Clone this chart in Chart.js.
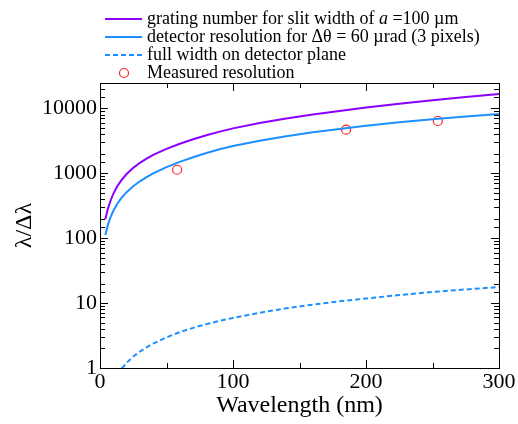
<!DOCTYPE html>
<html>
<head>
<meta charset="utf-8">
<script src="https://cdn.jsdelivr.net/npm/chart.js@4"></script>
<style>
body { margin: 0; background: #fff; }
</style>
</head>
<body>
<canvas id="grafico" width="518" height="424"></canvas>
<script>
// wavelength grid (nm) for the computed curves
const wavelengthNm = [4, 6, 8, 10, 13, 16, 20, 25, 30, 35, 40, 50, 60, 70, 80, 90, 100,
  120, 140, 160, 180, 200, 225, 250, 275, 300];
const gratingNumber = [196, 288, 380, 480, 630, 776, 970, 1208, 1446, 1680, 1920, 2375, 2838, 3325, 3840, 4365, 4900,
  5916, 6944, 8000, 9108, 10240, 11722, 13275, 14878, 16560];
const detectorRes = [112, 162, 212, 262, 338, 413, 510, 630, 750, 872, 992, 1240, 1494, 1764, 2048, 2340, 2630,
  3168, 3710, 4256, 4806, 5360, 6075, 6800, 7480, 8160];
const fullWidth = [null, null, null, null, 0.78, 0.96, 1.2, 1.5, 1.79, 2.08, 2.38, 2.97, 3.57, 4.15, 4.74, 5.33, 5.9,
  7.1, 8.3, 9.47, 10.65, 11.75, 13.3, 14.8, 16.2, 17.65];

// measured points
const measuredNm = [58, 185, 254];
const measuredRes = [1130, 4680, 6370];

// labelled ticks
const xTicks = [0, 100, 200, 300];
const yTicks = [1, 10, 100, 1000, 10000];

// *...* marks italic text in the legend
const seriesLabels = [
  'grating number for slit width of *a* =100 µm',
  'detector resolution for Δθ = 60 µrad (3 pixels)',
  'full width on detector plane',
  'Measured resolution'
];

const serif = '"Liberation Serif", "Times New Roman", serif';

function pontos(xs, ys) {
  return xs.map((x, i) => ({ x: x, y: ys[i] }));
}

// frame, inward ticks and legend
const molduraPlugin = {
  id: 'moldura',
  afterDraw(chart) {
    const ctx = chart.ctx;
    const a = chart.chartArea;
    const sx = chart.scales.x;
    const sy = chart.scales.y;

    ctx.save();
    ctx.strokeStyle = '#000';
    ctx.lineWidth = 1;
    ctx.beginPath();
    sx.ticks.forEach(t => {
      const px = Math.round(sx.getPixelForValue(t.value)) + 0.5;
      const len = xTicks.includes(t.value) ? 8 : 5;
      ctx.moveTo(px, a.bottom); ctx.lineTo(px, a.bottom - len);
      ctx.moveTo(px, a.top); ctx.lineTo(px, a.top + len);
    });
    sy.ticks.forEach(t => {
      if (t.value >= sy.max) return;
      const py = Math.round(sy.getPixelForValue(t.value)) + 0.5;
      const len = yTicks.includes(t.value) ? 8 : 5;
      ctx.moveTo(a.left, py); ctx.lineTo(a.left + len, py);
      ctx.moveTo(a.right, py); ctx.lineTo(a.right - len, py);
    });
    ctx.stroke();
    ctx.strokeRect(Math.round(a.left) + 0.5, Math.round(a.top) + 0.5,
      Math.round(a.right - a.left), Math.round(a.bottom - a.top));

    // legend
    ctx.textBaseline = 'middle';
    chart.data.datasets.forEach((ds, i) => {
      const y = 19 + 18 * i;
      if (ds.showLine === false) {
        ctx.beginPath();
        ctx.arc(124, y, ds.pointRadius, 0, Math.PI * 2);
        ctx.fillStyle = '#fff';
        ctx.fill();
        ctx.strokeStyle = ds.pointBorderColor;
        ctx.lineWidth = ds.pointBorderWidth;
        ctx.stroke();
      } else {
        ctx.setLineDash(ds.borderDash || []);
        ctx.strokeStyle = ds.borderColor;
        ctx.lineWidth = ds.borderWidth;
        ctx.beginPath();
        ctx.moveTo(105, y); ctx.lineTo(142, y);
        ctx.stroke();
        ctx.setLineDash([]);
      }
      ctx.fillStyle = '#000';
      let x = 147;
      seriesLabels[i].split('*').forEach((parte, k) => {
        ctx.font = (k % 2 ? 'italic ' : '') + '18px ' + serif;
        ctx.fillText(parte, x, y);
        x += ctx.measureText(parte).width;
      });
    });
    ctx.restore();
  }
};

new Chart(document.getElementById('grafico'), {
  type: 'line',
  data: {
    datasets: [
      {
        label: seriesLabels[0],
        data: pontos(wavelengthNm, gratingNumber),
        borderColor: '#8b00ff',
        borderWidth: 2,
        pointRadius: 0
      },
      {
        label: seriesLabels[1],
        data: pontos(wavelengthNm, detectorRes),
        borderColor: '#1e8fff',
        borderWidth: 2,
        pointRadius: 0
      },
      {
        label: seriesLabels[2],
        data: pontos(wavelengthNm, fullWidth),
        borderColor: '#1e8fff',
        borderWidth: 2,
        borderDash: [5, 3],
        pointRadius: 0
      },
      {
        label: seriesLabels[3],
        data: pontos(measuredNm, measuredRes),
        showLine: false,
        pointRadius: 4.5,
        pointBorderWidth: 1.2,
        pointBorderColor: '#ff2020',
        pointBackgroundColor: '#fff'
      }
    ]
  },
  options: {
    responsive: false,
    animation: false,
    devicePixelRatio: 1,
    layout: { padding: { top: 83, right: 19, left: 0, bottom: 0 } },
    plugins: {
      legend: { display: false },
      tooltip: { enabled: false }
    },
    scales: {
      x: {
        type: 'linear',
        min: 0,
        max: 300,
        border: { display: false },
        grid: { display: false, drawTicks: false },
        ticks: {
          stepSize: 50,
          autoSkip: false,
          maxRotation: 0,
          padding: 1,
          color: '#000',
          font: { family: serif, size: 22 },
          callback: v => xTicks.includes(v) ? String(v) : ''
        },
        title: {
          display: true,
          text: 'Wavelength (nm)',
          color: '#000',
          font: { family: serif, size: 24 },
          padding: { top: 0, bottom: 4 }
        },
        afterFit(scale) { scale.height = 56; }
      },
      y: {
        type: 'logarithmic',
        min: 1,
        max: 24500,
        border: { display: false },
        grid: { display: false, drawTicks: false },
        ticks: {
          autoSkip: false,
          padding: 3,
          color: '#000',
          font: { family: serif, size: 22 },
          callback: v => yTicks.includes(v) ? String(v) : ''
        },
        title: {
          display: true,
          text: 'λ/Δλ',
          color: '#000',
          font: { family: serif, size: 24 },
          padding: { top: 10, bottom: 0 }
        },
        afterFit(scale) { scale.width = 100; }
      }
    }
  },
  plugins: [molduraPlugin]
});
</script>
</body>
</html>
